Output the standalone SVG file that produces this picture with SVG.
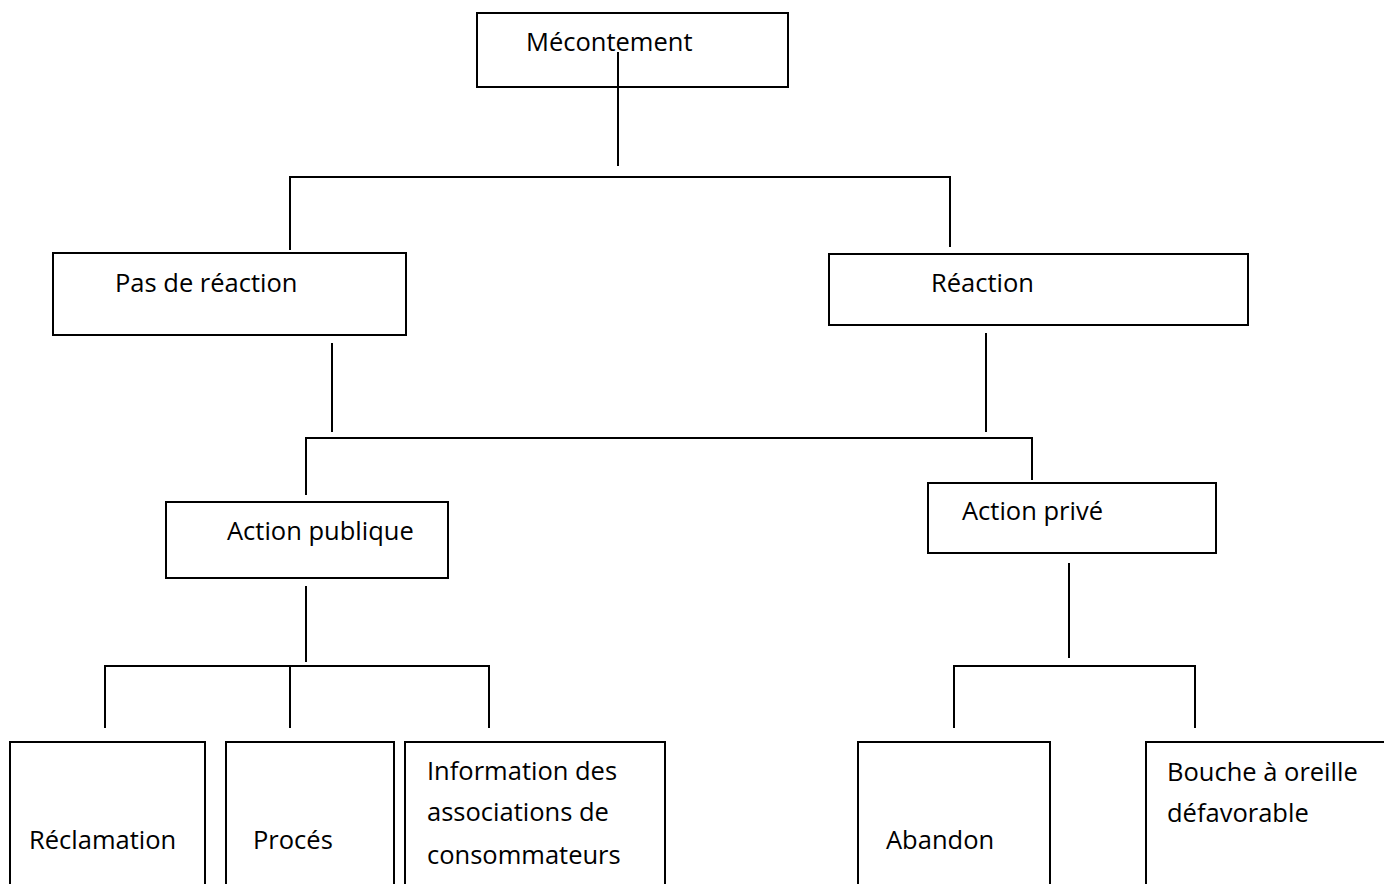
<svg xmlns="http://www.w3.org/2000/svg" width="1384" height="884" viewBox="0 0 1384 884">
  <style>
    .box { fill: #ffffff; stroke: #000000; stroke-width: 2; }
    .link { fill: none; stroke: #000000; stroke-width: 2; }
    .label { font-family: "Open Sans", "Liberation Sans", sans-serif; font-size: 25.5px; fill: #000000; }
  </style>
  <rect width="1384" height="884" fill="#ffffff"/>

  <!-- tree nodes -->
  <g id="mecontement">
    <rect class="box" x="477" y="13" width="311" height="74"/>
    <text class="label" x="526" y="51">Mécontement</text>
  </g>
  <g id="pas-de-reaction">
    <rect class="box" x="53" y="253" width="353" height="82"/>
    <text class="label" x="115" y="292">Pas de réaction</text>
  </g>
  <g id="reaction">
    <rect class="box" x="829" y="254" width="419" height="71"/>
    <text class="label" x="931" y="292">Réaction</text>
  </g>
  <g id="action-publique">
    <rect class="box" x="166" y="502" width="282" height="76"/>
    <text class="label" x="227" y="540">Action publique</text>
  </g>
  <g id="action-prive">
    <rect class="box" x="928" y="483" width="288" height="70"/>
    <text class="label" x="962" y="520">Action privé</text>
  </g>
  <g id="reclamation">
    <rect class="box" x="10" y="742" width="195" height="150"/>
    <text class="label" x="29" y="849">Réclamation</text>
  </g>
  <g id="proces">
    <rect class="box" x="226" y="742" width="168" height="150"/>
    <text class="label" x="253" y="849">Procés</text>
  </g>
  <g id="information">
    <rect class="box" x="405" y="742" width="260" height="150"/>
    <text class="label" x="427" y="780">Information des</text>
    <text class="label" x="427" y="821">associations de</text>
    <text class="label" x="427" y="864">consommateurs</text>
  </g>
  <g id="abandon">
    <rect class="box" x="858" y="742" width="192" height="150"/>
    <text class="label" x="886" y="849">Abandon</text>
  </g>
  <g id="bouche-a-oreille">
    <rect class="box" x="1146" y="742" width="250" height="150"/>
    <text class="label" x="1167" y="781">Bouche à oreille</text>
    <text class="label" x="1167" y="822">défavorable</text>
  </g>

  <!-- connectors -->
  <g id="connectors">
    <path class="link" d="M618 52 V166"/>
    <path class="link" d="M290 250 V177 H950 V247"/>
    <path class="link" d="M332 343 V432"/>
    <path class="link" d="M986 333 V432"/>
    <path class="link" d="M306 495 V438 H1032 V480"/>
    <path class="link" d="M306 586 V662"/>
    <path class="link" d="M105 728 V666 H489 V728"/>
    <path class="link" d="M290 666 V728"/>
    <path class="link" d="M1069 563 V658"/>
    <path class="link" d="M954 728 V666 H1195 V728"/>
  </g>
</svg>
